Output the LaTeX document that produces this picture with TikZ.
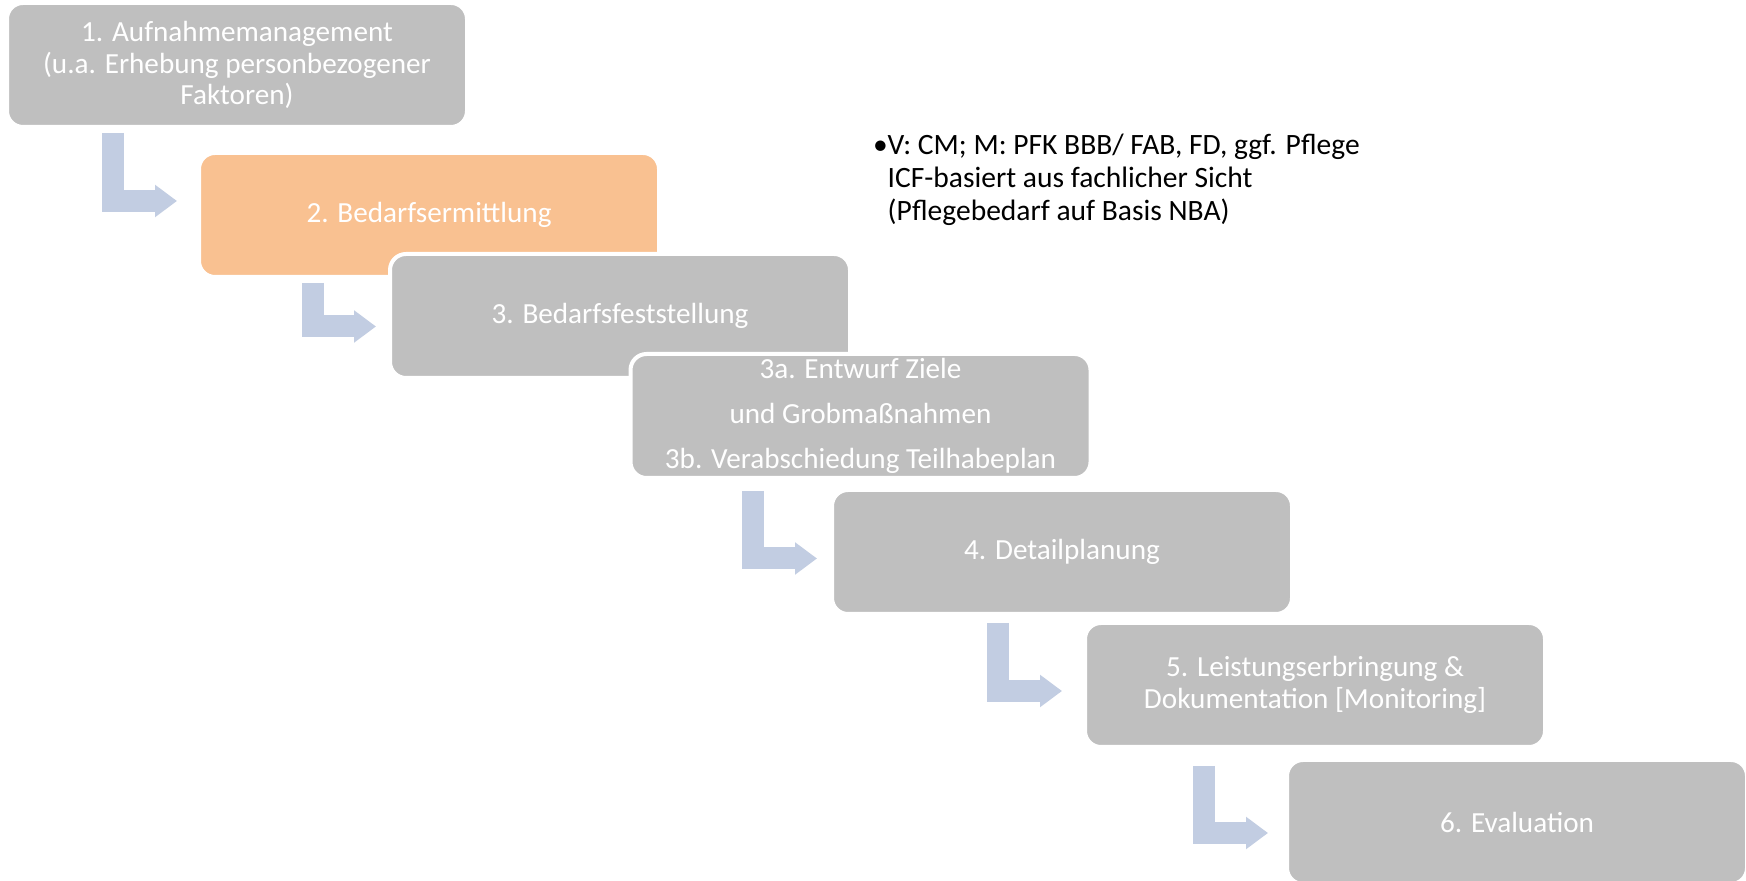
\documentclass[tikz,border=0pt]{standalone}
\usepackage{fontspec}
\setmainfont{Carlito}
\usetikzlibrary{arrows.meta,calc}
\definecolor{boxgray}{RGB}{191,191,191}
\definecolor{boxorange}{RGB}{249,193,145}
\definecolor{arrowblue}{RGB}{194,205,226}

\begin{document}
\begin{tikzpicture}[
    x=0.1mm, y=-0.1mm,
    stepbox/.style={fill=boxgray, draw=white, line width=0.4mm, rounded corners=1.6mm, outer sep=0pt, inner sep=0pt, text=white, align=center, minimum width=46mm, minimum height=12.4mm, font=\fontsize{8.3}{8.9}\selectfont},
    bentarrow/.style={arrowblue, line width=2.2mm, line join=miter, -{Triangle[length=2.2mm, width=3.1mm]}}
]

% Background
\useasboundingbox (0,0) rectangle (1746,881);
\fill[white] (0,0) rectangle (1746,881);

% PROCESS STEPS (staggered, each one on top of the one before)
\node[stepbox] (b1) at (237,65) {1. Aufnahmemanagement\\(u.a. Erhebung personbezogener\\Faktoren)};
\node[stepbox, fill=boxorange] (b2) at (429,215) {2. Bedarfsermittlung};
\node[stepbox] (b3) at (620,316) {3. Bedarfsfeststellung};
\node[stepbox, font=\fontsize{8.3}{12.7}\selectfont] (b3a) at (860.5,416) {3a. Entwurf Ziele\\und Grobmaßnahmen\\3b. Verabschiedung Teilhabeplan};
\node[stepbox] (b4) at (1062,552) {4. Detailplanung};
\node[stepbox] (b5) at (1315,685) {5. Leistungserbringung \&\\Dokumentation [Monitoring]};
\node[stepbox] (b6) at (1517,822) {6. Evaluation};

% BENT ARROWS
% Step 1 -> Step 2
\draw[bentarrow] ($(b1.south west)+(106,6)$) |- ($(b2.west)+(-22,-14)$);
% Step 2 -> Step 3
\draw[bentarrow] ($(b2.south west)+(113.5,6)$) |- ($(b3.west)+(-14,10.5)$);
% Step 3a/3b -> Step 4
\draw[bentarrow] ($(b3a.south west)+(122.5,13)$) |- ($(b4.west)+(-15,6.5)$);
% Step 4 -> Step 5
\draw[bentarrow] ($(b4.south west)+(166,9)$) |- ($(b5.west)+(-23,6)$);
% Step 5 -> Step 6
\draw[bentarrow] ($(b5.south west)+(118.5,19)$) |- ($(b6.west)+(-19,11)$);

% Note on step 2
\node[anchor=west, align=left, inner sep=0pt, font=\fontsize{8.4}{9.4}\selectfont] (note) at (887,180) {\llap{•}V: CM; M: PFK BBB/ FAB, FD, ggf. Pflege\\ICF-basiert aus fachlicher Sicht\\(Pflegebedarf auf Basis NBA)};

\end{tikzpicture}
\end{document}
